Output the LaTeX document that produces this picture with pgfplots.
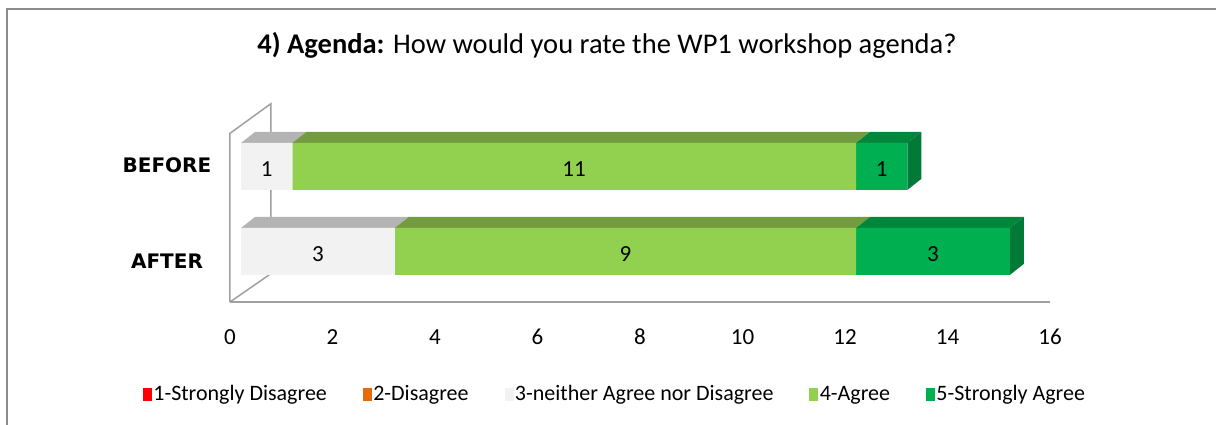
\documentclass[border=0pt]{standalone}
\usepackage{fontspec}
\setmainfont{Carlito}
\newfontfamily\catfont{DejaVu Sans}
\usepackage{pgfplots}
\pgfplotsset{compat=1.18}

\definecolor{cRed}{HTML}{FF0000}
\definecolor{cOrange}{HTML}{E46C0A}
\definecolor{cGrey}{HTML}{F2F2F2}
\definecolor{cGreyTop}{HTML}{B4B4B4}
\definecolor{cGreen}{HTML}{92D050}
\definecolor{cGreenTop}{HTML}{739C3E}
\definecolor{cDark}{HTML}{00B050}
\definecolor{cDarkTop}{HTML}{00873C}
\definecolor{cDarkSide}{HTML}{007A36}
\definecolor{wallgray}{HTML}{A0A0A0}
\definecolor{framegray}{HTML}{8C8C8C}

\pgfplotsset{
  base/.style={
    at={(0,0)}, anchor=origin,
    x=51.25pt, y=85pt,
    xmin=0, xmax=16, ymin=-0.594, ymax=1.8,
    clip=false,
    /pgf/number format/assume math mode=true,
  },
}

\begin{document}
\begin{tikzpicture}
\useasboundingbox (-230pt,-173.5pt) rectangle (986pt,251.5pt);
\draw[framegray, line width=2.5pt] (-223pt,-180pt) -- (-223pt,242.5pt) -- (990pt,242.5pt);
\node[font=\fontsize{28.5}{32}\selectfont] at (377pt,206.5pt)
  {\textbf{4) Agenda:} How would you rate the WP1 workshop agenda?};

% walls, ticks, legend, 3D faces
\begin{axis}[base,
  axis line style={draw=none}, tick style={draw=none},
  xtick={0,2,...,16}, ytick={-0.12,1.02}, yticklabels={AFTER,BEFORE},
  xticklabel style={anchor=center, yshift=-35pt, font=\fontsize{23}{23}\selectfont},
  yticklabel style={anchor=center, xshift=-63pt, font=\catfont\bfseries\fontsize{20}{20}\selectfont},
  legend image code/.code={\fill[#1] (0pt,-6pt) rectangle (8pt,6pt);},
  legend columns=5,
  legend style={at={(0.4695,-0.452)}, anchor=center, draw=none,
    font=\fontsize{22}{24}\selectfont,
    /tikz/every even column/.append style={column sep=34pt}},
  legend cell align=left,
]
\addlegendimage{cRed}\addlegendentry{1-Strongly Disagree}
\addlegendimage{cOrange}\addlegendentry{2-Disagree}
\addlegendimage{cGrey}\addlegendentry{3-neither Agree nor Disagree}
\addlegendimage{cGreen}\addlegendentry{4-Agree}
\addlegendimage{cDark}\addlegendentry{5-Strongly Agree}

% wall and floor
\addplot[forget plot, wallgray, line width=1.5pt] coordinates
  {(0,-0.594) (0,1.39) (0.8,1.74) (0.8,-0.26) (0,-0.594)};
\addplot[forget plot, wallgray, line width=2.5pt] coordinates {(0,-0.594) (16,-0.594)};

% top faces, BEFORE
\addplot[forget plot, fill=cGreyTop, draw=none] coordinates
  {(0.215,1.2765) (1.215,1.2765) (1.488,1.4065) (0.488,1.4065)} -- cycle;
\addplot[forget plot, fill=cGreenTop, draw=none] coordinates
  {(1.215,1.2765) (12.215,1.2765) (12.488,1.4065) (1.488,1.4065)} -- cycle;
\addplot[forget plot, fill=cDarkTop, draw=none] coordinates
  {(12.215,1.2765) (13.215,1.2765) (13.488,1.4065) (12.488,1.4065)} -- cycle;
\addplot[forget plot, fill=cDarkSide, draw=none] coordinates
  {(13.215,0.7235) (13.215,1.2765) (13.488,1.4065) (13.488,0.8535)} -- cycle;
% top faces, AFTER
\addplot[forget plot, fill=cGreyTop, draw=none] coordinates
  {(0.215,0.2765) (3.215,0.2765) (3.488,0.4065) (0.488,0.4065)} -- cycle;
\addplot[forget plot, fill=cGreenTop, draw=none] coordinates
  {(3.215,0.2765) (12.215,0.2765) (12.488,0.4065) (3.488,0.4065)} -- cycle;
\addplot[forget plot, fill=cDarkTop, draw=none] coordinates
  {(12.215,0.2765) (15.215,0.2765) (15.488,0.4065) (12.488,0.4065)} -- cycle;
\addplot[forget plot, fill=cDarkSide, draw=none] coordinates
  {(15.215,-0.2765) (15.215,0.2765) (15.488,0.4065) (15.488,-0.1465)} -- cycle;
\end{axis}

% front faces of the stacked bars
\begin{axis}[base,
  axis lines=none,
  xbar stacked, bar width=47pt,
  lbl/.style={
    visualization depends on={rawx \as \rawx},
    nodes near coords={\pgfmathprintnumber{\rawx}},
    every node near coord/.append style={anchor=center, yshift=-3pt,
      font=\fontsize{23}{23}\selectfont, text=black},
  },
]
% depth offset of the front face
\addplot[draw=none, fill=none] coordinates {(0.215,1) (0.215,0)};
\addplot[draw=none, fill=cRed] coordinates {(0,1) (0,0)};
\addplot[draw=none, fill=cOrange] coordinates {(0,1) (0,0)};
\addplot[draw=none, fill=cGrey, lbl] coordinates {(1,1) (3,0)};
\addplot[draw=none, fill=cGreen, lbl] coordinates {(11,1) (9,0)};
\addplot[draw=none, fill=cDark, lbl] coordinates {(1,1) (3,0)};
\end{axis}
\end{tikzpicture}
\end{document}
